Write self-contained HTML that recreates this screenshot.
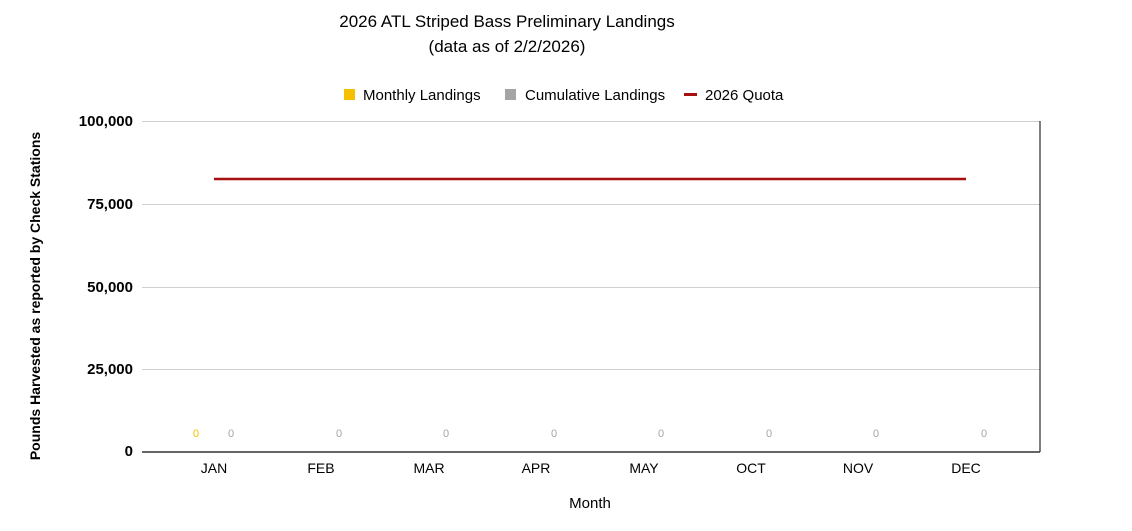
<!DOCTYPE html>
<html><head><style>body{margin:0;background:#fff}svg{display:block}text{font-family:"Liberation Sans",sans-serif}</style></head><body>
<svg width="1132" height="531" xmlns="http://www.w3.org/2000/svg">
<text x="507" y="27" font-size="17" text-anchor="middle">2026 ATL Striped Bass Preliminary Landings</text>
<text x="507" y="52" font-size="17" text-anchor="middle">(data as of  2/2/2026)</text>
<rect x="344" y="89" width="11" height="11" fill="#f5c000"/>
<text x="363" y="100" font-size="15">Monthly Landings</text>
<rect x="505" y="89" width="11" height="11" fill="#a5a5a5"/>
<text x="525" y="100" font-size="15">Cumulative Landings</text>
<rect x="684" y="93" width="13" height="3" fill="#a50f0f"/>
<text x="705" y="100" font-size="15">2026 Quota</text>
<g stroke="#d0d0d0" stroke-width="1">
<line x1="142" y1="121.5" x2="1040" y2="121.5"/>
<line x1="142" y1="204.5" x2="1040" y2="204.5"/>
<line x1="142" y1="287.5" x2="1040" y2="287.5"/>
<line x1="142" y1="369.5" x2="1040" y2="369.5"/>
</g>
<line x1="1040" y1="121" x2="1040" y2="452" stroke="#000"/>
<line x1="142" y1="452" x2="1040" y2="452" stroke="#333" stroke-width="1.5"/>
<line x1="214" y1="179" x2="966" y2="179" stroke="#a50f0f" stroke-width="2.5"/>
<g font-size="15" font-weight="bold" text-anchor="end">
<text x="133" y="126">100,000</text><text x="133" y="209">75,000</text>
<text x="133" y="292">50,000</text><text x="133" y="374">25,000</text><text x="133" y="456">0</text>
</g>
<g font-size="14" text-anchor="middle">
<text x="214" y="473">JAN</text><text x="321" y="473">FEB</text><text x="429" y="473">MAR</text><text x="536" y="473">APR</text>
<text x="644" y="473">MAY</text><text x="751" y="473">OCT</text><text x="858" y="473">NOV</text><text x="966" y="473">DEC</text>
</g>
<g font-size="11" text-anchor="middle" fill="#a5a5a5">
<text x="196" y="437" fill="#f5c000">0</text>
<text x="231" y="437">0</text><text x="339" y="437">0</text><text x="446" y="437">0</text><text x="554" y="437">0</text>
<text x="661" y="437">0</text><text x="769" y="437">0</text><text x="876" y="437">0</text><text x="984" y="437">0</text>
</g>
<text x="590" y="508" font-size="15" text-anchor="middle">Month</text>
<text transform="translate(40,296) rotate(-90)" font-size="14" font-weight="bold" text-anchor="middle">Pounds Harvested as reported by Check Stations</text>
</svg>
</body></html>
